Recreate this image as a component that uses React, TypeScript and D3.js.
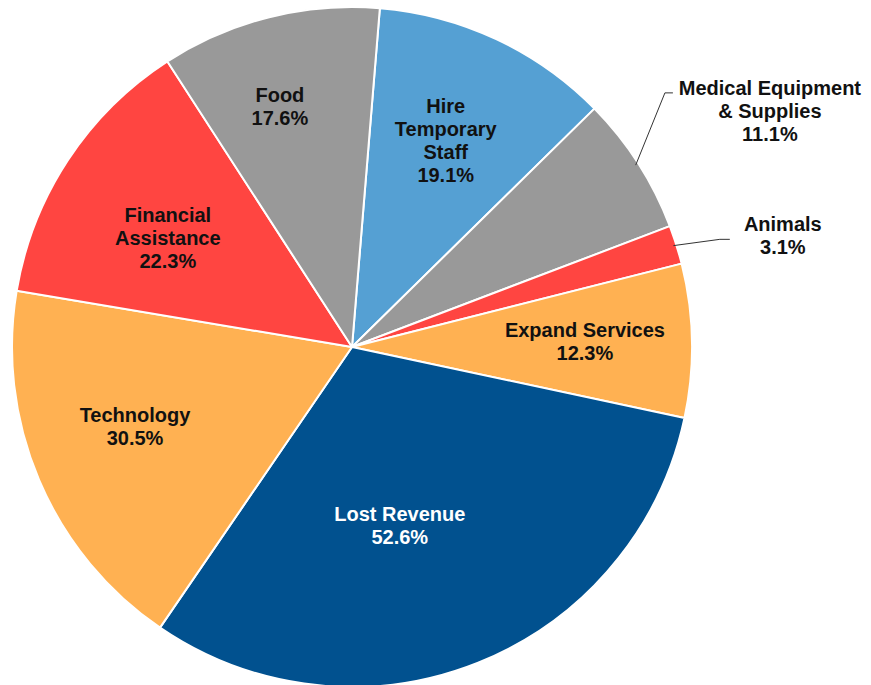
import React from "react";
import * as d3 from "d3";

const categories = [
  "Hire Temporary Staff",
  "Medical Equipment & Supplies",
  "Animals",
  "Expand Services",
  "Lost Revenue",
  "Technology",
  "Financial Assistance",
  "Food",
];
const values = [19.1, 11.1, 3.1, 12.3, 52.6, 30.5, 22.3, 17.6];
const labelLines = [
  ["Hire", "Temporary", "Staff"],
  ["Medical Equipment", "& Supplies"],
  ["Animals"],
  ["Expand Services"],
  ["Lost Revenue"],
  ["Technology"],
  ["Financial", "Assistance"],
  ["Food"],
];

const colors = [
  "#55A0D3",
  "#999999",
  "#FF4541",
  "#FFB152",
  "#01518F",
  "#FFB152",
  "#FF4541",
  "#999999",
];
const textColors = ["#111", "#111", "#111", "#111", "#fff", "#111", "#111", "#111"];

// label layout: angle delta (deg) from slice mid, radius (px)
const labelLayout = [
  { da: -0.7, r: 227 },
  { da: 3.2, r: 480 },
  { da: 3.0, r: 445 },
  { da: -0.3, r: 233 },
  { da: 6.8, r: 185 },
  { da: 3.0, r: 231 },
  { da: -2.7, r: 214 },
  { da: -2.6, r: 251 },
];

const W = 871;
const H = 685;
const CX = 352;
const CY = 347;
const R = 340;
const START = (4.7 * Math.PI) / 180;
const LINE_H = 23;

function polar(angle: number, r: number): [number, number] {
  return [CX + r * Math.sin(angle), CY - r * Math.cos(angle)];
}

export default function App() {
  const data = categories.map((c, i) => ({ name: c, value: values[i], i }));
  const pie = d3
    .pie<any>()
    .sort(null)
    .value((d: any) => d.value)
    .startAngle(START)
    .endAngle(START + 2 * Math.PI);
  const arcs = pie(data);
  const arc = d3.arc<any>().innerRadius(0).outerRadius(R);

  return (
    <svg
      width={W}
      height={H}
      style={{ position: "absolute", left: 0, top: 0, background: "#fff" }}
      fontFamily="'Liberation Sans', Arial, sans-serif"
    >
      <g transform={`translate(${CX},${CY})`}>
        {arcs.map((a, i) => (
          <path
            key={i}
            d={arc(a) as string}
            fill={colors[i]}
            stroke="#fff"
            strokeWidth={2}
            strokeLinejoin="round"
          />
        ))}
      </g>
      {arcs.map((a, i) => {
        const mid = (a.startAngle + a.endAngle) / 2;
        const lay = labelLayout[i];
        const [lx, ly] = polar(mid + (lay.da * Math.PI) / 180, lay.r);
        const lines = [...labelLines[i], `${values[i].toFixed(1)}%`];
        const n = lines.length;
        let leader: React.ReactNode = null;
        if (lay.r > R) {
          const [ex, ey] = polar(mid, R - 3);
          if (i === 1) {
            const pts = [
              [ex, ey],
              [lx - 105, ly - 18],
              [lx - 97, ly - 18],
            ];
            leader = (
              <polyline
                points={pts.map((p) => p.join(",")).join(" ")}
                fill="none"
                stroke="#333"
                strokeWidth={1}
              />
            );
          } else {
            const pts = [
              [ex, ey],
              [lx - 63, ly + 3.8],
              [lx - 53, ly + 3.8],
            ];
            leader = (
              <polyline
                points={pts.map((p) => p.join(",")).join(" ")}
                fill="none"
                stroke="#333"
                strokeWidth={1}
              />
            );
          }
        }
        return (
          <g key={i}>
            {leader}
            <text
              textAnchor="middle"
              fontSize={20}
              fontWeight="bold"
              fill={textColors[i]}
            >
              {lines.map((t, k) => (
                <tspan key={k} x={lx} y={ly + (k - (n - 1) / 2) * LINE_H + 7}>
                  {t}
                </tspan>
              ))}
            </text>
          </g>
        );
      })}
    </svg>
  );
}
